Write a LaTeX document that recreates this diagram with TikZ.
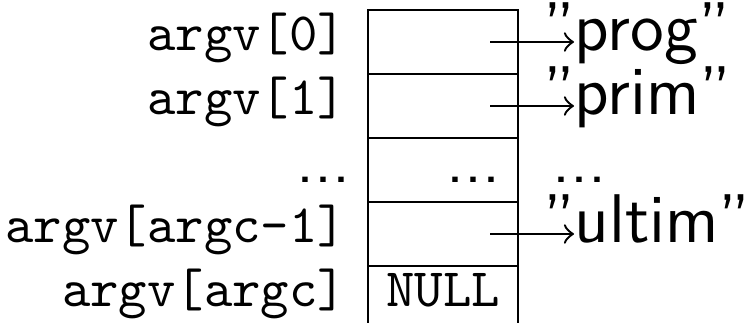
\documentclass[tikz,border=0pt]{standalone}
\usepackage{fontspec}
\setmonofont{Latin Modern Mono}
\setsansfont{Latin Modern Sans}
\begin{document}
\begin{tikzpicture}[x=0.1887pt,y=-0.1887pt,
    rule/.style={line width=0.4pt},
    lbl/.style={inner sep=0pt,anchor=base east,font=\fontsize{10.2}{12}\ttfamily},
    cell/.style={inner sep=0pt,anchor=base east,font=\fontsize{10.2}{12}\ttfamily},
    str/.style={inner sep=0pt,anchor=base west,font=\fontsize{13}{15}\sffamily},
    dots/.style={inner sep=0pt,font=\fontsize{12.5}{15}\sffamily},
    ptr/.style={line width=0.45pt,-to}]
  \useasboundingbox (0,0) rectangle (749,323);

  % the array of pointers: open at the bottom
  \draw[rule] (368,323) -- (368,10) -- (518,10) -- (518,323);
  \foreach \y in {74,138,202,266}
    \draw[rule] (368,\y) -- (518,\y);

  % index labels
  \node[lbl] (l0) at (347,51)  {argv[0]};
  \node[lbl] (l1) at (347,115) {argv[1]};
  \node[dots,anchor=base east] (l2) at (352,183) {...};
  \node[lbl] (l3) at (347,243) {argv[argc-1]};
  \node[lbl] (l4) at (347,307) {argv[argc]};

  % cell contents
  \node[dots,anchor=base east] (c2) at (502,183) {...};
  \node[cell] (c4) at (501,307) {NULL};

  % strings pointed to
  \node[str] (s0) at (542,51)  {''prog''};
  \node[str] (s1) at (542,115) {''prim''};
  \node[dots,anchor=base west] (s2) at (551,183) {...};
  \node[str] (s3) at (542,243) {''ultim''};

  \coordinate (p0) at (490,42);
  \coordinate (p1) at (490,106);
  \coordinate (p3) at (490,234);
  \coordinate (q0) at (574,42);
  \coordinate (q1) at (574,106);
  \coordinate (q3) at (574,234);
  \draw[ptr] (p0) -- (q0);
  \draw[ptr] (p1) -- (q1);
  \draw[ptr] (p3) -- (q3);
\end{tikzpicture}
\end{document}
